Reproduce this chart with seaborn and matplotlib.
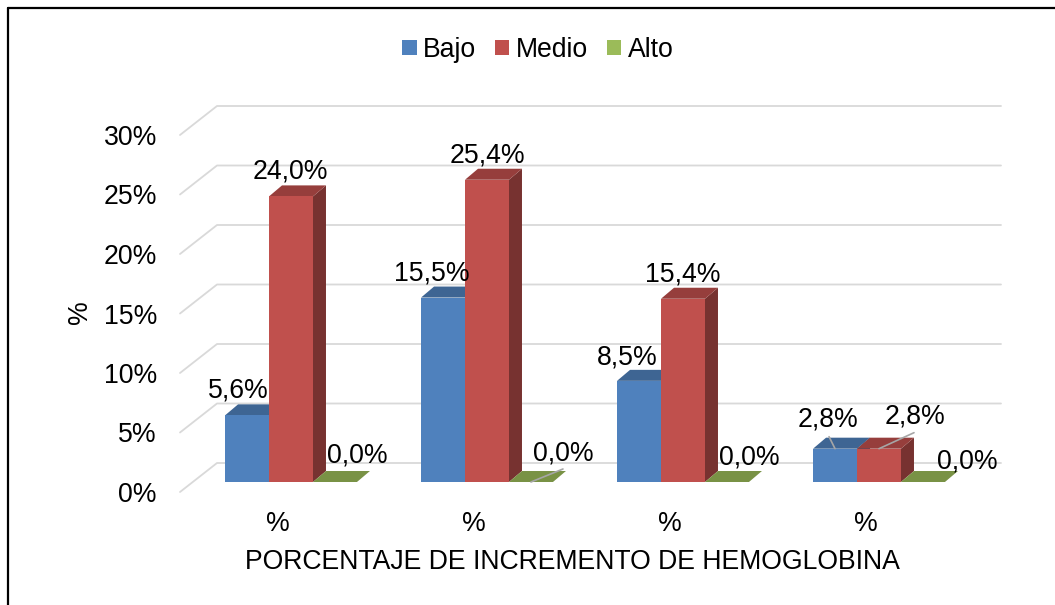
import numpy as np
import pandas as pd
import matplotlib
matplotlib.use("Agg")
import matplotlib.pyplot as plt
import seaborn as sns
from matplotlib.patches import Polygon, Rectangle
from matplotlib.transforms import ScaledTranslation
from matplotlib.lines import Line2D

# --- Datos ---
grupos = ["G1", "G2", "G3", "G4"]
etiquetas_x = ["%", "%", "%", "%"]
niveles = ["Bajo", "Medio", "Alto"]
bajo = [5.6, 15.5, 8.5, 2.8]
medio = [24.0, 25.4, 15.4, 2.8]
alto = [0.0, 0.0, 0.0, 0.0]
y_ticks = [0, 5, 10, 15, 20, 25, 30]
colores = ["#4F81BD", "#C0504D", "#9BBB59"]

df = pd.DataFrame({
    "grupo": grupos * 3,
    "nivel": [n for n in niveles for _ in grupos],
    "valor": bajo + medio + alto,
})

# --- Estilo ---
sns.set_style("white")
plt.rcParams["font.family"] = ["Liberation Sans", "DejaVu Sans"]
plt.rcParams["text.color"] = "black"
plt.rcParams["axes.labelcolor"] = "black"
plt.rcParams["xtick.color"] = "black"
plt.rcParams["ytick.color"] = "black"
FS = 19.2

W, H = 1055, 605
fig = plt.figure(figsize=(W / 100, H / 100), dpi=100)
ax = fig.add_axes([193 / W, (H - 482) / H, 784 / W, 357 / H])

sns.barplot(data=df, x="grupo", y="valor", hue="nivel", order=grupos,
            hue_order=niveles, palette=colores, width=0.673, gap=0,
            saturation=1, linewidth=0, errorbar=None, ax=ax)
ax.set_xlim(-0.5, 3.5)
ax.set_ylim(0, 30)

# pixeles por unidad de datos
px_x = 784 / 4
px_y = 357 / 30

# efecto 3D: caras superior y lateral
DX, DY = 13 / px_x, 11 / px_y
bars = sorted([p for p in ax.patches if isinstance(p, Rectangle) and p.get_width() > 0.01],
              key=lambda p: p.get_x())
for i, p in enumerate(bars):
    x0, w, h = p.get_x(), p.get_width(), p.get_height()
    c = np.array(p.get_facecolor()[:3])
    z = 2 + i * 0.01
    top = Polygon([(x0, h), (x0 + w, h), (x0 + w + DX, h + DY), (x0 + DX, h + DY)],
                  closed=True, fc=c * 0.78, ec="none", zorder=z, clip_on=False)
    side = Polygon([(x0 + w, 0), (x0 + w + DX, DY), (x0 + w + DX, h + DY), (x0 + w, h)],
                   closed=True, fc=c * 0.62, ec="none", zorder=z, clip_on=False)
    ax.add_patch(side)
    ax.add_patch(top)
    p.set_zorder(z + 0.002)
    p.set_clip_on(False)

# etiquetas de datos (desplazamiento en pixeles desde la esquina frontal)
offs = [(-9, 25), (-1, 25), (22, 27), (-11, 24), (0, 24), (32, 28),
        (-12, 23), (0, 24), (22, 25), (-7, 29), (36, 32), (44, 21)]
for p, off in zip(bars, offs):
    h = p.get_height()
    xc = p.get_x() + p.get_width() / 2
    txt = f"{h:.1f}%".replace(".", ",")
    ax.annotate(txt, xy=(xc, h), xytext=off, textcoords="offset pixels",
                ha="center", va="center", fontsize=FS, zorder=10,
                annotation_clip=False)

# lineas guia
guias = {5: (32, 13), 9: (-6, 12), 10: (35, 16)}
for idx, end in guias.items():
    p = bars[idx]
    ax.annotate("", xy=(p.get_x() + p.get_width() / 2, p.get_height()), xytext=end,
                textcoords="offset pixels", annotation_clip=False, zorder=9,
                arrowprops=dict(arrowstyle="-", color="#A6A6A6", lw=1.2,
                                shrinkA=0, shrinkB=0))

# cuadricula en el plano del fondo + pared izquierda
bx, by = 24 / px_x, 19 / px_y
fx, fy = -13 / px_x, -10 / px_y
for v in y_ticks:
    ax.plot([-0.5 + fx, -0.5 + bx, 3.5 + bx], [v + fy, v + by, v + by],
            color="#D9D9D9", lw=1.3, zorder=0.5, clip_on=False)

# ejes
for s in ax.spines.values():
    s.set_visible(False)
ax.set_yticks(y_ticks)
ax.set_yticklabels([f"{v}%" for v in y_ticks])
ax.set_xticks(range(len(grupos)))
ax.set_xticklabels(etiquetas_x)
ax.tick_params(axis="y", length=0, pad=26, labelsize=FS, labelcolor="black")
ax.tick_params(axis="x", length=0, pad=21, labelsize=FS, labelcolor="black")
for lab in ax.get_yticklabels():
    lab.set_transform(lab.get_transform() + ScaledTranslation(0, -0.10, fig.dpi_scale_trans))
for lab in ax.get_xticklabels():
    lab.set_transform(lab.get_transform() + ScaledTranslation(-0.13, 0, fig.dpi_scale_trans))

ax.set_xlabel("PORCENTAJE DE INCREMENTO DE HEMOGLOBINA", fontsize=FS, color="black")
ax.xaxis.set_label_coords(0.5 - 13 / 784, (482 - 549) / 357)
ax.set_ylabel("%", fontsize=FS, color="black")
ax.yaxis.label.set_va("center")
ax.yaxis.set_label_coords((80 - 193) / 784, (482 - 312) / 357)

sns.move_legend(ax, "center", bbox_to_anchor=((538 - 193) / 784, (482 - 50) / 357),
                ncol=3, frameon=False, title=None, fontsize=FS,
                handlelength=0.53, handleheight=0.53, handletextpad=0.25,
                columnspacing=0.7, labelcolor="black")

# marco
fig.add_artist(Line2D([8 / W, 1], [1 - 8 / H, 1 - 8 / H], color="black", lw=1.6,
                      transform=fig.transFigure))
fig.add_artist(Line2D([8 / W, 8 / W], [0, 1 - 8 / H], color="black", lw=1.6,
                      transform=fig.transFigure))

fig.savefig("out.png", dpi=100)
